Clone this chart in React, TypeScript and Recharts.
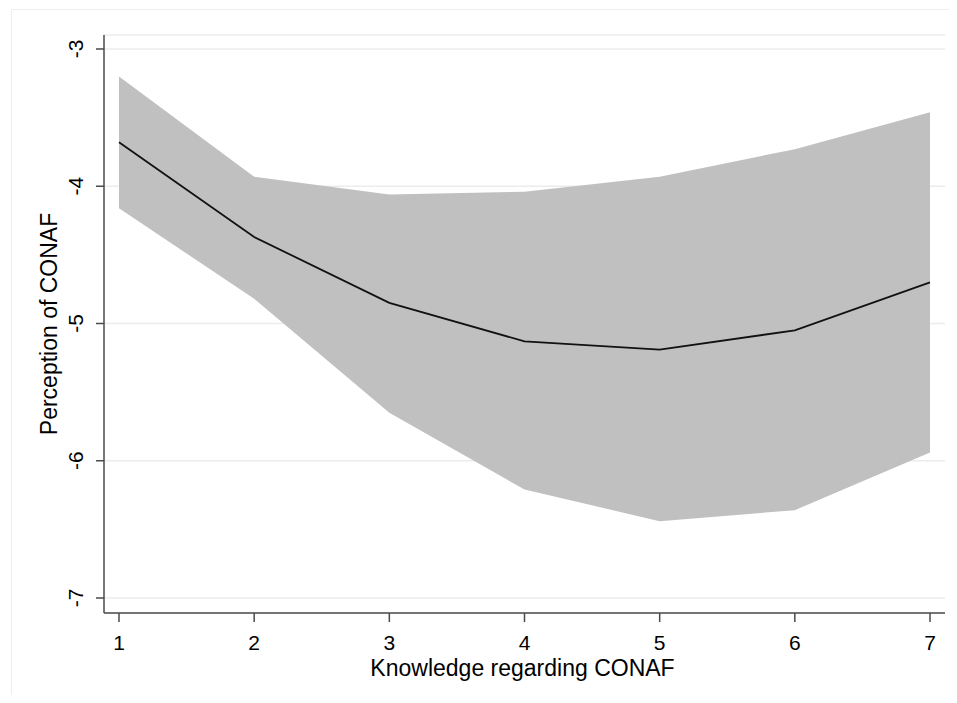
import React from 'react'
import { ComposedChart, Area, Line, XAxis, YAxis, CartesianGrid, Label } from 'recharts'

// values (predicted margins with 95% CI)
const knowledge = [1, 2, 3, 4, 5, 6, 7]
const fitted = [-3.68, -4.37, -4.85, -5.13, -5.19, -5.05, -4.7]
const upper = [-3.2, -3.93, -4.06, -4.04, -3.93, -3.73, -3.46]
const lower = [-4.16, -4.82, -5.65, -6.21, -6.44, -6.36, -5.94]
const xTicks = [1, 2, 3, 4, 5, 6, 7]
const yTicks = [-7, -6, -5, -4, -3]

const data = knowledge.map((k, i) => ({ k, fit: fitted[i], band: [lower[i], upper[i]] }))

const font = '"Liberation Sans", Arial, Helvetica, sans-serif'

function YTick({ x, y, payload }: any) {
  const bx = x - 10.7
  return (
    <text x={bx} y={y} transform={`rotate(-90 ${bx} ${y})`} textAnchor="middle"
      fontSize={21} fontFamily={font} fill="#000">{payload.value}</text>
  )
}

function XTick({ x, y, payload }: any) {
  return (
    <text x={x} y={y + 25.5} textAnchor="middle" fontSize={21} fontFamily={font} fill="#000">
      {payload.value}
    </text>
  )
}

function XTitle({ viewBox }: any) {
  return (
    <text x={viewBox.x + viewBox.width / 2 - 2} y={viewBox.y + 63} textAnchor="middle"
      fontSize={23} fontFamily={font} fill="#000">Knowledge regarding CONAF</text>
  )
}

function YTitle({ viewBox }: any) {
  const bx = 49.3
  const cy = viewBox.y + viewBox.height / 2
  return (
    <text x={bx} y={cy} transform={`rotate(-90 ${bx} ${cy})`} textAnchor="middle"
      fontSize={23} fontFamily={font} fill="#000">Perception of CONAF</text>
  )
}

export default function App() {
  return (
    <div style={{ position: 'relative', width: 941, height: 687 }}>
      <div style={{
        position: 'absolute', left: 3, top: 1, width: 946, height: 690,
        borderTop: '1px solid #eeeeee', borderLeft: '1px solid #eeeeee', boxSizing: 'border-box'
      }} />
      <ComposedChart width={941} height={687} data={data}
        margin={{ top: 27, right: 4, left: 0, bottom: 22 }} style={{ position: 'absolute', left: 0, top: 0 }}>
        <CartesianGrid vertical={false} stroke="#ececec" strokeWidth={1.5} />
        <XAxis type="number" dataKey="k" domain={[1, 7]} ticks={xTicks} padding={{ left: 15, right: 15 }}
          height={60} tickSize={9} tick={<XTick />} stroke="#4a4a4a" strokeWidth={1.5}
          tickLine={{ stroke: '#4a4a4a', strokeWidth: 1.5 }} axisLine={{ stroke: '#4a4a4a', strokeWidth: 1.5 }}>
          <Label content={<XTitle />} />
        </XAxis>
        <YAxis type="number" domain={[-7, -3]} ticks={yTicks} padding={{ top: 14, bottom: 15 }}
          width={96} tickSize={8} tick={<YTick />} stroke="#4a4a4a"
          tickLine={{ stroke: '#4a4a4a', strokeWidth: 1.5 }} axisLine={{ stroke: '#4a4a4a', strokeWidth: 1.5 }}>
          <Label content={<YTitle />} />
        </YAxis>
        <Area dataKey="band" type="linear" fill="#c0c0c0" fillOpacity={1} stroke="none" isAnimationActive={false} />
        <Line dataKey="fit" type="linear" stroke="#111" strokeWidth={1.8} dot={false} isAnimationActive={false} />
      </ComposedChart>
    </div>
  )
}
